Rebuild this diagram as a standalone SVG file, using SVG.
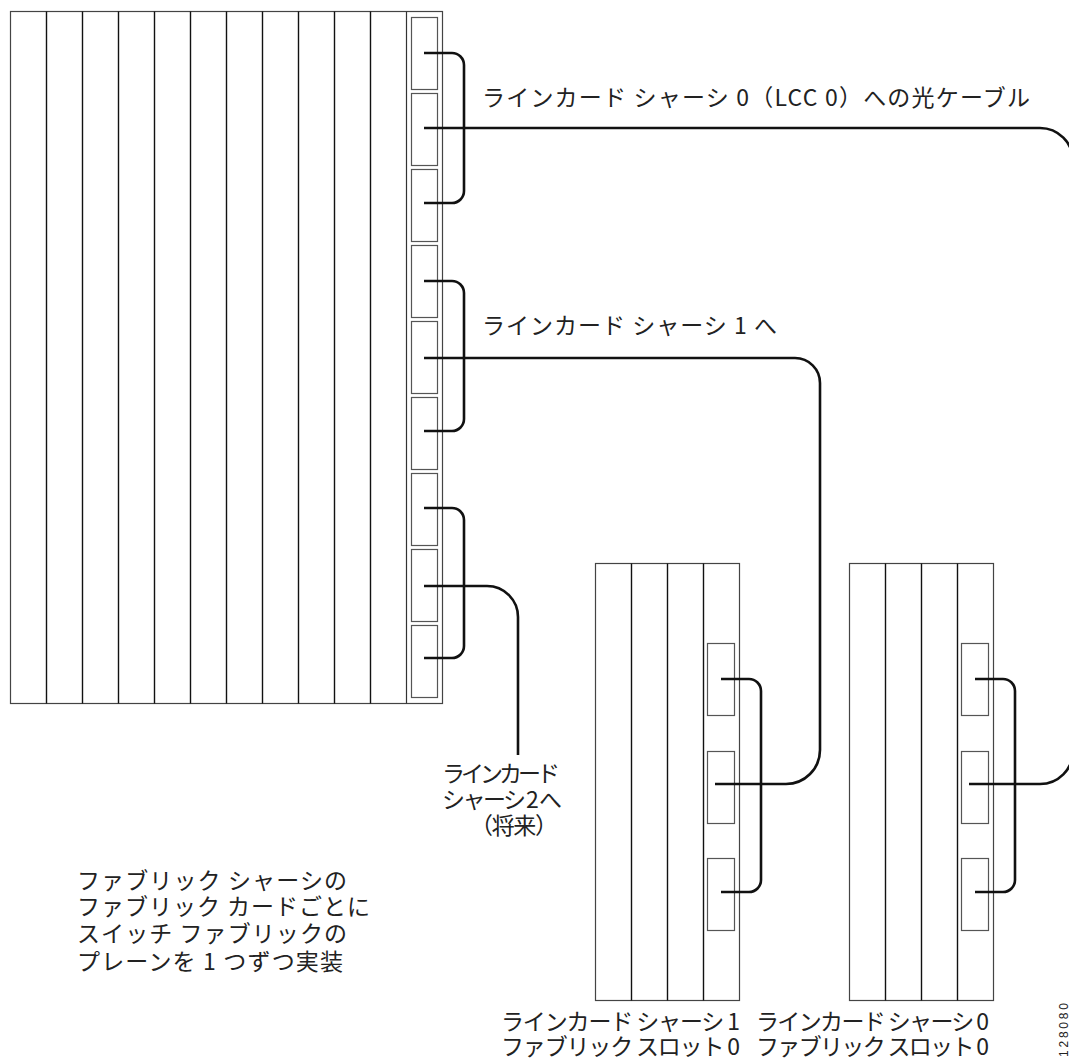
<svg xmlns="http://www.w3.org/2000/svg" width="1069" height="1059" viewBox="0 0 1069 1059">
<style>
.frame{fill:#fff;stroke:#444;stroke-width:1.2}
.div{stroke:#111;stroke-width:1.4;fill:none}
.slot{fill:#fff;stroke:#555;stroke-width:1.2}
.cable{fill:none;stroke:#111;stroke-width:2.6;stroke-linecap:butt}
text{font-family:"Noto Sans CJK JP","Liberation Sans",sans-serif;font-size:23px;fill:#222}
.id{font-family:"Liberation Sans",sans-serif;font-size:12px}
</style>
<rect width="1069" height="1059" fill="#fff"/>
<g id="fabric-chassis">
<rect class="frame" x="10.5" y="11.5" width="432" height="692"/>
<path class="div" d="M46.5,11.5V703.5M82.5,11.5V703.5M118.5,11.5V703.5M154.5,11.5V703.5M190.5,11.5V703.5M226.5,11.5V703.5M262.5,11.5V703.5M298.5,11.5V703.5M334.5,11.5V703.5M370.5,11.5V703.5"/>
<path d="M406.5,11.5V703.5" stroke="#333" stroke-width="1.2"/>
<rect class="slot" x="411.5" y="17.5" width="26" height="72"/>
<rect class="slot" x="411.5" y="93.5" width="26" height="72"/>
<rect class="slot" x="411.5" y="169.5" width="26" height="72"/>
<rect class="slot" x="411.5" y="245.5" width="26" height="72"/>
<rect class="slot" x="411.5" y="321.5" width="26" height="72"/>
<rect class="slot" x="411.5" y="397.5" width="26" height="72"/>
<rect class="slot" x="411.5" y="473.5" width="26" height="72"/>
<rect class="slot" x="411.5" y="549.5" width="26" height="72"/>
<rect class="slot" x="411.5" y="625.5" width="26" height="72"/>
</g>
<g id="lcc1">
<rect class="frame" x="595.5" y="563.5" width="144" height="437"/>
<path class="div" d="M631.5,563.5V1000.5M667.5,563.5V1000.5M703.5,563.5V1000.5"/>
<rect class="slot" x="707.5" y="643.5" width="27" height="72"/>
<rect class="slot" x="707.5" y="751.5" width="27" height="72"/>
<rect class="slot" x="707.5" y="858.5" width="27" height="72"/>
</g>
<g id="lcc0">
<rect class="frame" x="849.5" y="563.5" width="144" height="437"/>
<path class="div" d="M885.5,563.5V1000.5M921.5,563.5V1000.5M957.5,563.5V1000.5"/>
<rect class="slot" x="961.5" y="643.5" width="27" height="72"/>
<rect class="slot" x="961.5" y="751.5" width="27" height="72"/>
<rect class="slot" x="961.5" y="858.5" width="27" height="72"/>
</g>
<g id="connectors">
<path class="cable" d="M424,53H452A12,12 0 0 1 464,65V191A12,12 0 0 1 452,203H424"/>
<path class="cable" d="M424,281H452A12,12 0 0 1 464,293V419A12,12 0 0 1 452,431H424"/>
<path class="cable" d="M424,508H452A12,12 0 0 1 464,520V646A12,12 0 0 1 452,658H424"/>
<path class="cable" d="M721,679H749A12,12 0 0 1 761,691V880A12,12 0 0 1 749,892H721"/>
<path class="cable" d="M975,679H1003A12,12 0 0 1 1015,691V880A12,12 0 0 1 1003,892H975"/>
<path class="cable" d="M424,128H1040A33,33 0 0 1 1073,161V751A33,33 0 0 1 1040,784H969"/>
<path class="cable" d="M424,358H795A25,25 0 0 1 820,383V750A34,34 0 0 1 786,784H715"/>
<path class="cable" d="M424,586H487A31,31 0 0 1 518,617V755"/>
</g>
<g id="labels">
<text x="482" y="106" textLength="548" lengthAdjust="spacing">ラインカード シャーシ 0（LCC 0）への光ケーブル</text>
<text x="482" y="334" textLength="295" lengthAdjust="spacing">ラインカード シャーシ 1 へ</text>
<text x="442" y="782" textLength="118" lengthAdjust="spacing">ラインカード</text>
<text x="442" y="808" textLength="120" lengthAdjust="spacing">シャーシ 2 へ</text>
<text x="470" y="834" textLength="88" lengthAdjust="spacing">（将来）</text>
<text x="77" y="889" textLength="270" lengthAdjust="spacing">ファブリック シャーシの</text>
<text x="77" y="915" textLength="293" lengthAdjust="spacing">ファブリック カードごとに</text>
<text x="77" y="942" textLength="270" lengthAdjust="spacing">スイッチ ファブリックの</text>
<text x="77" y="970" textLength="266" lengthAdjust="spacing">プレーンを 1 つずつ実装</text>
<text x="501" y="1030" textLength="239" lengthAdjust="spacing">ラインカード シャーシ 1</text>
<text x="501" y="1055" textLength="239" lengthAdjust="spacing">ファブリック スロット 0</text>
<text x="756" y="1030" textLength="233" lengthAdjust="spacing">ラインカード シャーシ 0</text>
<text x="756" y="1055" textLength="233" lengthAdjust="spacing">ファブリック スロット 0</text>
<text class="id" transform="translate(1068,1057) rotate(-90)" textLength="54" lengthAdjust="spacing">128080</text>
</g>
</svg>
